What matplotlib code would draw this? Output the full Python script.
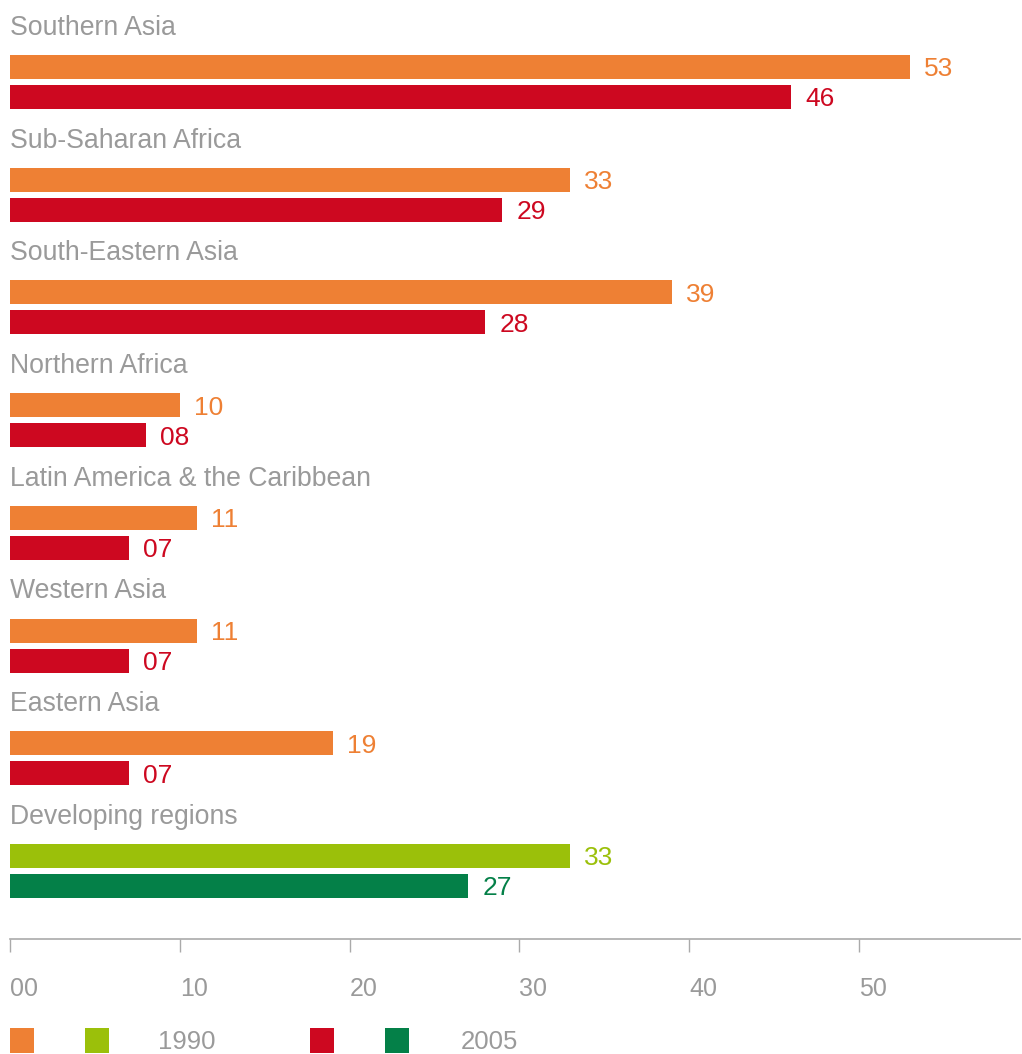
import matplotlib.pyplot as plt
from matplotlib.patches import Rectangle

plt.rcParams['font.family'] = ['Liberation Sans', 'DejaVu Sans']

# Data
regions = ["Southern Asia", "Sub-Saharan Africa", "South-Eastern Asia",
           "Northern Africa", "Latin America & the Caribbean", "Western Asia",
           "Eastern Asia", "Developing regions"]
values_1990 = [53, 33, 39, 10, 11, 11, 19, 33]
values_2005 = [46, 29, 28, 8, 7, 7, 7, 27]
xticks = [0, 10, 20, 30, 40, 50]
xtick_labels = ["00", "10", "20", "30", "40", "50"]
legend_labels = ["1990", "2005"]

orange = "#EE8034"
red = "#CD0820"
lime = "#9BC00A"
green = "#048048"
gray = "#9a9a9a"

W, H = 1022, 1054
fig = plt.figure(figsize=(W / 100, H / 100), dpi=100)

# axes: x=0 at 10px, bottom axis line at y=939px
ax = fig.add_axes([10 / W, (H - 939) / H, 1010 / W, 939 / H])
step = 112.7  # pixels per group
top0 = 82     # pixel centre of first group
ax.set_xlim(0, 1010 / 16.98)
ax.set_ylim((939 - top0) / step, -top0 / step)

bar_h = 24 / step
off = 15 / step

for i, name in enumerate(regions):
    c1 = lime if name == "Developing regions" else orange
    c2 = green if name == "Developing regions" else red
    ax.barh(i - off, values_1990[i], height=bar_h, color=c1, linewidth=0)
    ax.barh(i + off, values_2005[i], height=bar_h, color=c2, linewidth=0)
    ax.annotate(f"{values_1990[i]:02d}", (values_1990[i], i - off),
                xytext=(10, 0), textcoords="offset points",
                va="center_baseline", ha="left", fontsize=19, color=c1)
    ax.annotate(f"{values_2005[i]:02d}", (values_2005[i], i + off),
                xytext=(10, 0), textcoords="offset points",
                va="center_baseline", ha="left", fontsize=19, color=c2)
    ax.text(0, i - off - 32 / step, name, fontsize=19.2, color=gray,
            va="baseline", ha="left")

for s in ["top", "right", "left"]:
    ax.spines[s].set_visible(False)
ax.spines["bottom"].set_color("#aaaaaa")
ax.spines["bottom"].set_linewidth(1.2)
ax.set_yticks([])
ax.set_xticks(xticks)
ax.set_xticklabels(xtick_labels, ha="left", fontsize=18, color=gray)
ax.tick_params(axis="x", length=9.5, width=1, color="#aaaaaa", pad=18)

# legend
sq_w, sq_h = 24, 25
for x0, col in [(10, orange), (85, lime), (310, red), (385, green)]:
    fig.add_artist(Rectangle((x0 / W, (H - 1053) / H), sq_w / W, sq_h / H,
                             transform=fig.transFigure, color=col, lw=0))
for x0, lab in [(158, legend_labels[0]), (461, legend_labels[1])]:
    fig.text(x0 / W, (H - 1042) / H, lab, fontsize=18.5, color=gray,
             va="center", ha="left")

fig.savefig("out.png", dpi=100)
